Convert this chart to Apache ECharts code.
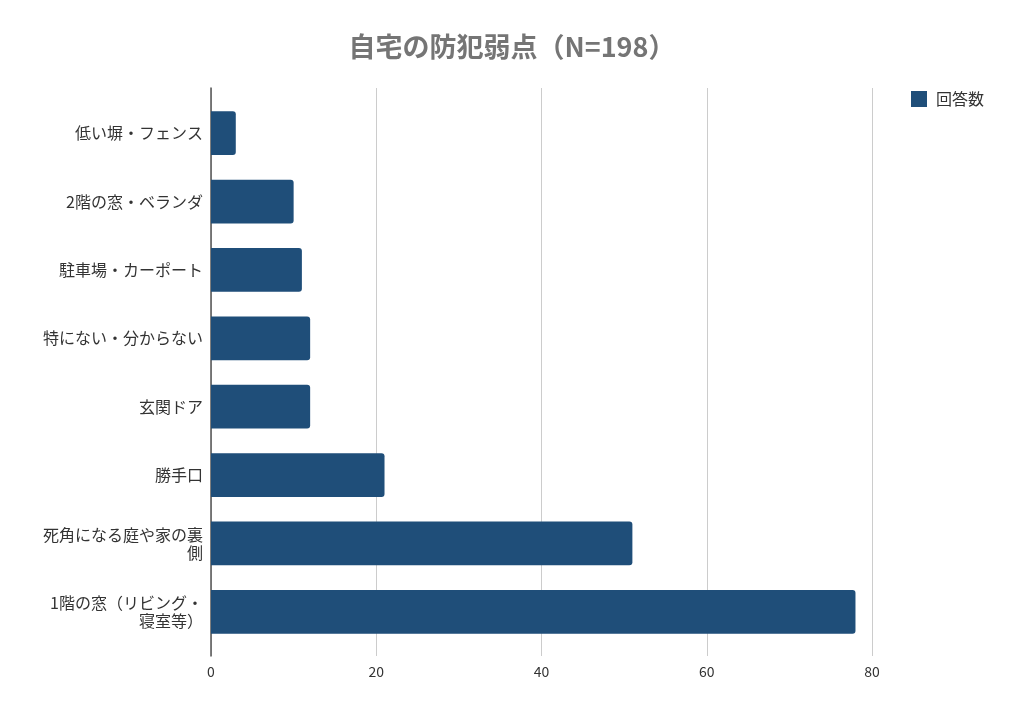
<!DOCTYPE html>
<html><head><meta charset="utf-8">
<script src="https://cdn.jsdelivr.net/npm/echarts@6/dist/echarts.min.js"></script>
<style>html,body{margin:0;padding:0;background:#fff}#c{width:1024px;height:717px}</style>
</head><body><div id="c"></div>
<script>
const categories = ['低い塀・フェンス','2階の窓・ベランダ','駐車場・カーポート','特にない・分からない','玄関ドア','勝手口','死角になる庭や家の裏\n側','1階の窓（リビング・\n寝室等）'];
const counts = [3, 10, 11, 12, 12, 21, 51, 78];
const seriesName = '回答数';
const titleText = '自宅の防犯弱点（N=198）';
const xMin = 0, xMax = 80, xStep = 20;

const font = '"Noto Sans CJK JP", "Noto Sans", sans-serif';
const chart = echarts.init(document.getElementById('c'), null, {renderer:'canvas'});
chart.setOption({
  animation: false,
  backgroundColor: '#fff',
  title: {text: titleText, left: 'center', top: 28,
    textStyle: {fontFamily: font, fontSize: 27, fontWeight: 'bold', color: '#757575'}},
  legend: {data: [seriesName], right: 35, top: 86, itemWidth: 16, itemHeight: 16, itemGap: 8,
    icon: 'rect', textStyle: {fontFamily: font, fontSize: 16, color: '#333', padding: [0,0,0,4]}},
  grid: [
    {left: 211, right: 152, top: 88, bottom: 61},
    {left: 211, right: 152, top: 99, bottom: 71}
  ],
  xAxis: [
    {type: 'value', gridIndex: 0, min: xMin, max: xMax, interval: xStep,
      axisLine: {show: false}, axisTick: {show: false},
      splitLine: {show: true, lineStyle: {color: '#cccccc', width: 1}},
      axisLabel: {fontFamily: font, fontSize: 14, color: '#333', margin: 9}},
    {type: 'value', gridIndex: 1, min: xMin, max: xMax, interval: xStep, show: false}
  ],
  yAxis: [
    {type: 'category', gridIndex: 0, data: categories, inverse: true,
      axisLine: {show: true, lineStyle: {color: '#555', width: 1.5}},
      axisTick: {show: false}, axisLabel: {show: false}, splitLine: {show: false}},
    {type: 'category', gridIndex: 1, data: categories, inverse: true,
      axisLine: {show: false}, axisTick: {show: false},
      axisLabel: {fontFamily: font, fontSize: 16, color: '#333', margin: 8, align: 'right', lineHeight: 18}}
  ],
  series: [{
    name: seriesName, type: 'bar', xAxisIndex: 1, yAxisIndex: 1,
    data: counts, barCategoryGap: '36%',
    itemStyle: {color: '#1f4e79', borderRadius: [0, 3, 3, 0]}
  }]
});
</script></body></html>
